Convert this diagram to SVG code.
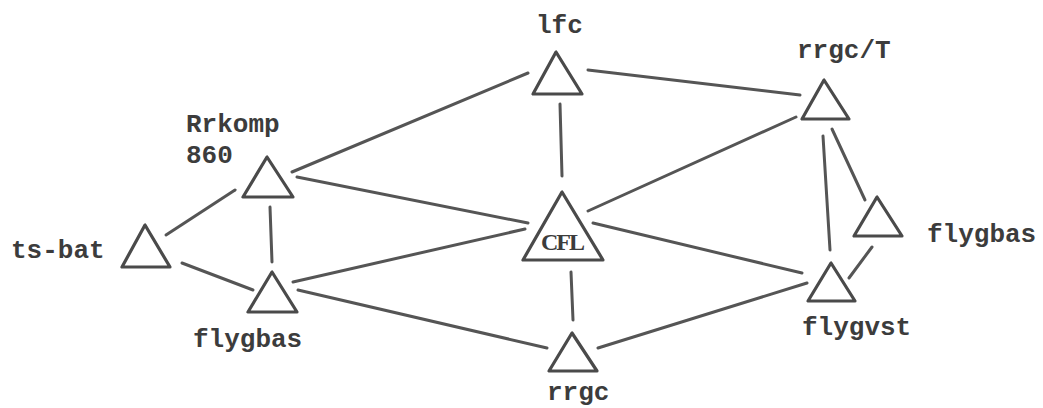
<svg xmlns="http://www.w3.org/2000/svg" width="1043" height="408" viewBox="0 0 1043 408">
<style>
.tri{fill:none;stroke:#4a4a4a;stroke-width:3.2;stroke-linejoin:round}
.edge{stroke:#555;stroke-width:3;stroke-linecap:round;fill:none}
.lbl{font-family:"Liberation Mono","DejaVu Sans Mono",monospace;font-weight:bold;font-size:26px;fill:#3c3c3c}
.cfl{font-family:"Liberation Serif","DejaVu Serif",serif;font-weight:bold;font-size:24px;fill:#3c3c3c;letter-spacing:-2px}
</style>
<rect width="1043" height="408" fill="#ffffff"/>
<g id="connectors">
<line class="edge" x1="292" y1="172" x2="528" y2="73"/>
<line class="edge" x1="588" y1="70" x2="800" y2="95"/>
<line class="edge" x1="560" y1="104" x2="562" y2="176"/>
<line class="edge" x1="297" y1="177" x2="528" y2="223"/>
<line class="edge" x1="166" y1="235" x2="235" y2="190"/>
<line class="edge" x1="270" y1="207" x2="272" y2="262"/>
<line class="edge" x1="182" y1="263" x2="253" y2="290"/>
<line class="edge" x1="293" y1="282" x2="525" y2="229"/>
<line class="edge" x1="298" y1="290" x2="547" y2="348"/>
<line class="edge" x1="571" y1="272" x2="573" y2="320"/>
<line class="edge" x1="588" y1="211" x2="796" y2="117"/>
<line class="edge" x1="593" y1="223" x2="802" y2="273"/>
<line class="edge" x1="598" y1="348" x2="807" y2="283"/>
<line class="edge" x1="823" y1="136" x2="830" y2="250"/>
<line class="edge" x1="832" y1="129" x2="865" y2="200"/>
<line class="edge" x1="872" y1="247" x2="849" y2="278"/>
</g>
<g id="node-lfc">
<polygon class="tri" points="556,52 533,94 582,94"/>
<text class="lbl" x="536" y="33">lfc</text>
</g>
<g id="node-rrgcT">
<polygon class="tri" points="824,80 802,119 849,119"/>
<text class="lbl" x="797" y="58">rrgc/T</text>
</g>
<g id="node-rrkomp">
<polygon class="tri" points="267,157 243,197 293,197"/>
<text class="lbl" x="186" y="132">Rrkomp</text>
<text class="lbl" x="186" y="163">860</text>
</g>
<g id="node-cfl">
<polygon class="tri" points="562,192 523,260 603,260"/>
<text class="cfl" x="562" y="250" text-anchor="middle">CFL</text>
</g>
<g id="node-tsbat">
<polygon class="tri" points="145,225 122,267 170,267"/>
<text class="lbl" x="11" y="258">ts-bat</text>
</g>
<g id="node-flygbas-left">
<polygon class="tri" points="272,272 248,312 297,312"/>
<text class="lbl" x="193" y="347">flygbas</text>
</g>
<g id="node-rrgc">
<polygon class="tri" points="572,333 549,371 597,371"/>
<text class="lbl" x="547" y="400">rrgc</text>
</g>
<g id="node-flygbas-right">
<polygon class="tri" points="877,197 854,236 902,236"/>
<text class="lbl" x="927" y="242">flygbas</text>
</g>
<g id="node-flygvst">
<polygon class="tri" points="831,263 808,301 855,301"/>
<text class="lbl" x="802" y="335">flygvst</text>
</g>
</svg>
